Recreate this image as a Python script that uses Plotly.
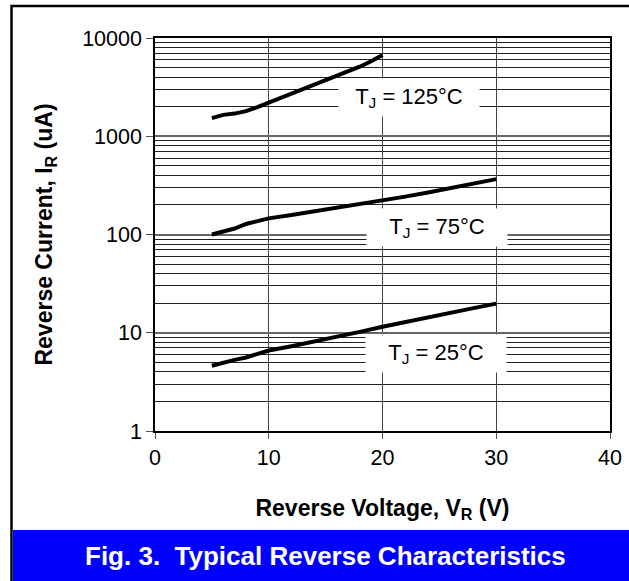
import plotly.graph_objects as go
import numpy as np

# ---- data ----
v_125 = [5, 6, 7, 8, 9, 10, 11, 12, 13, 14, 15, 16, 17, 18, 19, 20]
i_125 = [1530, 1650, 1700, 1800, 1980, 2200, 2420, 2750, 3050, 3400, 3750, 4150, 4600, 5100, 5800, 6700]

v_75 = [5, 6, 7, 8, 9, 10, 12, 14, 16, 18, 20, 22, 24, 26, 28, 30]
i_75 = [100, 108, 115, 128, 138, 146, 158, 172, 185, 202, 219, 243, 268, 295, 330, 366]

v_25 = [5, 6, 7, 8, 9, 10, 12, 14, 16, 18, 20, 22, 24, 26, 28, 30]
i_25 = [4.62, 5.0, 5.3, 5.6, 6.1, 6.6, 7.3, 8.1, 9.0, 10.2, 11.5, 12.9, 14.4, 16.0, 17.8, 19.8]

x_ticks = [0, 10, 20, 30, 40]
y_ticks = [1, 10, 100, 1000, 10000]

labels = ["T<sub>J</sub> = 125°C", "T<sub>J</sub> = 75°C", "T<sub>J</sub> = 25°C"]
label_x = [22.3, 24.8, 24.7]
label_y = [2480, 119, 6.2]

FONT = "Liberation Sans, Arial, sans-serif"
W, H = 629, 581
L, R, T, B = 155, 19, 38, 150
PW, PH = W - L - R, H - T - B

def px(xp):
    return (xp - L) / PW

def py(yp):
    return (H - B - yp) / PH

fig = go.Figure()
for v, i in [(v_125, i_125), (v_75, i_75), (v_25, i_25)]:
    fig.add_trace(go.Scatter(x=v, y=i, mode="lines",
                             line=dict(color="black", width=4),
                             showlegend=False, hoverinfo="skip"))

for t, x, y in zip(labels, label_x, label_y):
    fig.add_annotation(x=x, y=np.log10(y), xref="x", yref="y", text=t,
                       showarrow=False, bgcolor="white", width=140, height=37,
                       borderpad=0, font=dict(family=FONT, size=22, color="black"))

# caption band + frame
fig.add_shape(type="rect", xref="paper", yref="paper",
              x0=px(13), x1=px(660), y0=py(620), y1=py(530),
              fillcolor="#0000FF", line=dict(width=0), layer="below")
fig.add_shape(type="rect", xref="paper", yref="paper",
              x0=px(11.5), x1=px(660), y0=py(620), y1=py(6),
              line=dict(color="black", width=2.5), fillcolor="rgba(0,0,0,0)")
fig.add_annotation(x=px(325), y=py(556), xref="paper", yref="paper",
                   xanchor="center", yanchor="middle",
                   text="Fig. 3.\u00a0 Typical Reverse Characteristics",
                   showarrow=False, font=dict(family=FONT, size=26, color="white", weight="bold"))

fig.update_xaxes(range=[0, 40], tickvals=x_ticks, ticktext=[str(t) for t in x_ticks],
                 showgrid=True, gridcolor="#444", gridwidth=1,
                 showline=True, linecolor="black", linewidth=1.5, mirror=True,
                 ticks="outside", ticklen=6, tickcolor="#555", zeroline=False,
                 tickfont=dict(family=FONT, size=21.5, color="black"),
                 title=dict(text="<b>Reverse Voltage, V<sub>R</sub> (V)</b>",
                            font=dict(family=FONT, size=23, color="black"), standoff=31))
fig.update_yaxes(type="log", range=[0, 4], tickvals=y_ticks, ticktext=[str(t) for t in y_ticks],
                 showgrid=True, gridcolor="#666", gridwidth=1.5,
                 minor=dict(dtick="D1", showgrid=True, gridcolor="#222", gridwidth=1, ticks=""),
                 showline=True, linecolor="black", linewidth=1.5, mirror=True,
                 ticks="outside", ticklen=7, tickcolor="#555", zeroline=False,
                 tickfont=dict(family=FONT, size=21.5, color="black"),
                 title=dict(text="<b>Reverse Current, I<sub>R</sub> (uA)</b>",
                            font=dict(family=FONT, size=23, color="black"), standoff=23))

fig.update_layout(width=W, height=H, margin=dict(l=L, r=R, t=T, b=B, autoexpand=False),
                  paper_bgcolor="white", plot_bgcolor="white")

fig.write_html("out.html", config={"displayModeBar": False},
               post_script="document.body.style.margin='0';document.body.style.overflow='hidden';")
